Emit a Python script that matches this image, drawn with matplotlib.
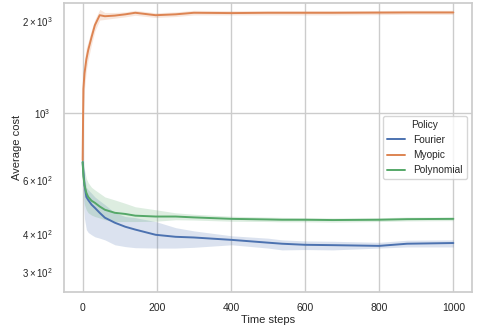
import numpy as np
import matplotlib.pyplot as plt
import seaborn as sns

sns.set_theme(style="whitegrid")
plt.rcParams['font.family'] = ['Liberation Sans', 'DejaVu Sans']
plt.rcParams['mathtext.fontset'] = 'custom'
plt.rcParams['mathtext.rm'] = 'Liberation Sans'
plt.rcParams['mathtext.it'] = 'Liberation Sans:italic'
plt.rcParams['mathtext.bf'] = 'Liberation Sans:bold'

steps = [0, 2, 5, 10, 15, 24, 33, 46, 60, 87, 115, 142, 197, 251, 300,
         402, 500, 538, 600, 675, 800, 875, 1000]

# Fourier
fourier = [690, 640, 580, 530, 518, 500, 488, 470, 453, 436, 423, 414, 398, 392, 390,
           383, 375, 372, 369, 368, 366, 372, 374]
fourier_lo = [660, 520, 450, 414, 405, 398, 392, 388, 383, 369, 364, 361, 360, 360, 362,
              369, 360, 355, 356, 355, 360, 363, 363]
fourier_hi = [800, 700, 620, 570, 559, 545, 530, 515, 500, 470, 457, 453, 440, 420, 410,
              395, 388, 383, 380, 379, 376, 382, 383]

# Myopic
myopic = [700, 1200, 1350, 1500, 1610, 1775, 1944, 2096, 2080, 2090, 2110, 2135, 2096, 2110, 2135,
          2130, 2135, 2135, 2135, 2135, 2138, 2140, 2140]
myopic_lo = [680, 1000, 1200, 1380, 1500, 1680, 1860, 2020, 2030, 2050, 2070, 2095, 2060, 2075, 2100,
             2100, 2100, 2100, 2100, 2100, 2105, 2110, 2110]
myopic_hi = [720, 1300, 1500, 1640, 1720, 1880, 2030, 2190, 2140, 2140, 2150, 2175, 2135, 2150, 2175,
             2170, 2170, 2170, 2170, 2170, 2172, 2175, 2175]

# Polynomial
poly = [690, 620, 580, 547, 530, 515, 507, 493, 481, 470, 466, 460, 457, 457, 454,
        449, 447, 446, 446, 445, 446, 448, 449]
poly_lo = [670, 560, 500, 480, 470, 462, 457, 452, 446, 440, 440, 440, 441, 446, 445,
           441, 440, 439, 439, 438, 440, 442, 443]
poly_hi = [710, 680, 650, 610, 590, 570, 559, 545, 530, 518, 505, 492, 481, 470, 465,
           458, 455, 454, 453, 452, 453, 455, 455]

colors = sns.color_palette("deep")

fig = plt.figure(figsize=(4.82, 3.26), dpi=100)
ax = fig.add_axes([0.133, 0.104, 0.846, 0.887])

series = [("Fourier", fourier, fourier_lo, fourier_hi, colors[0]),
          ("Myopic", myopic, myopic_lo, myopic_hi, colors[1]),
          ("Polynomial", poly, poly_lo, poly_hi, colors[2])]
for name, y, lo, hi, c in series:
    ax.fill_between(steps, lo, hi, color=c, alpha=0.2, linewidth=0)
    ax.plot(steps, y, color=c, lw=1.4, label=name)

ax.set_yscale('log')
ax.set_ylim(258, 2300)
ax.set_xlim(-50, 1050)
ax.set_xticks([0, 200, 400, 600, 800, 1000])
ax.tick_params(labelsize=7.5, pad=2)
ax.tick_params(axis='y', which='both', labelsize=7, pad=4)
ax.set_xlabel("Time steps", fontsize=8, labelpad=1)
ax.set_ylabel("Average cost", fontsize=8)
ax.yaxis.set_label_coords(-0.103, 0.5)

leg = ax.legend(title="Policy", loc="center right", fontsize=7.3, title_fontsize=7.3,
                handlelength=1.8)

fig.savefig("out.png", dpi=100)
